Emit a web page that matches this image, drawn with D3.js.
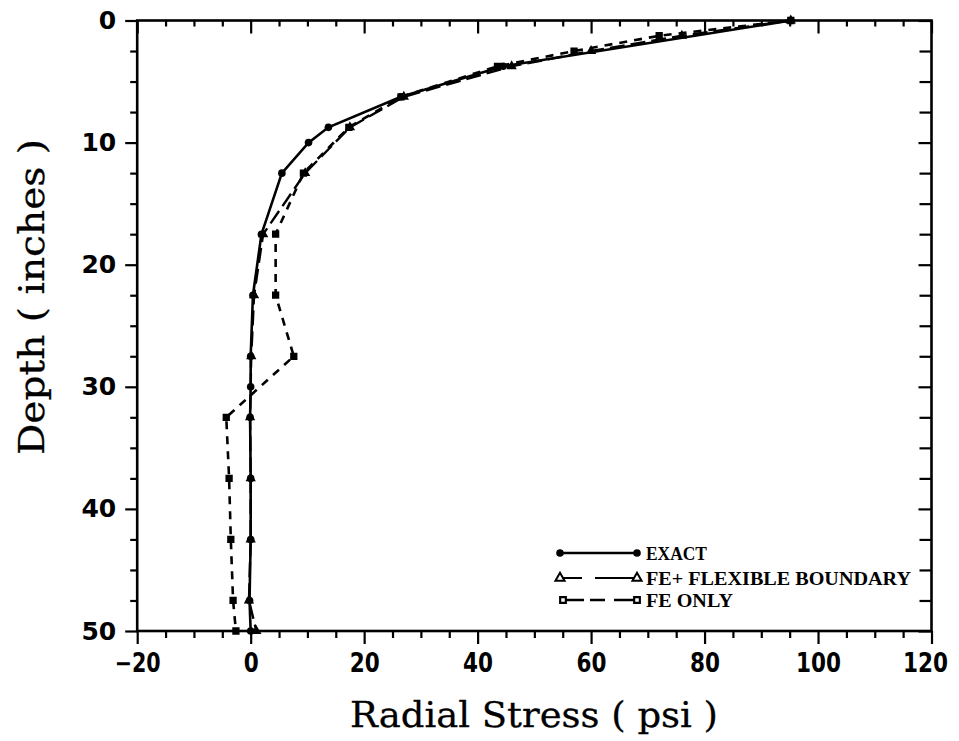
<!DOCTYPE html>
<html>
<head>
<meta charset="utf-8">
<script src="https://cdn.jsdelivr.net/npm/d3@7"></script>
<style>
  html, body { margin: 0; padding: 0; background: #fff; }
  svg { display: block; }
</style>
</head>
<body>
<svg id="chart" width="959" height="741"></svg>
<script>
// ---- data ----
const exactDepth  = [0, 3.75, 6.25, 8.75, 10, 12.5, 17.5, 22.5, 27.5, 30, 32.5, 37.5, 42.5, 47.5, 50];
const exactStress = [95.2, 44.5, 26.5, 13.7, 10.2, 5.5, 1.9, 0.4, 0.0, 0.0, -0.1, 0.0, 0.0, -0.2, 0.0];

const feDepth       = [0, 1.25, 2.5, 3.75, 6.25, 8.75, 12.5, 17.5, 22.5, 27.5, 32.5, 37.5, 42.5, 47.5, 50];
const flexStress    = [95.2, 76.0, 60.0, 46.0, 27.0, 17.5, 9.6, 2.2, 0.6, 0.1, -0.1, 0.0, 0.0, -0.3, 1.0];
const feOnlyStress  = [95.2, 72.0, 57.0, 43.5, 26.5, 17.3, 9.3, 4.4, 4.4, 7.6, -4.3, -3.8, -3.5, -3.1, -2.6];

const xMajorTicks = [-20, 0, 20, 40, 60, 80, 100, 120];
const yMajorTicks = [0, 10, 20, 30, 40, 50];
const legendLabels = ["EXACT", "FE+ FLEXIBLE BOUNDARY", "FE ONLY"];
const xTitle = "Radial Stress ( psi )";
const yTitle = "Depth ( inches )";

// ---- layout ----
const svg = d3.select("#chart");
const L = 137.2, R = 931.5, T = 20.5, B = 631;
const x = d3.scaleLinear().domain([-20, 120]).range([L, R]);
const y = d3.scaleLinear().domain([0, 50]).range([T, B]);

const xMinor = d3.range(-20, 120.01, 5).filter(v => !xMajorTicks.includes(v));
const yMinor = d3.range(0, 50.01, 2.5).filter(v => !yMajorTicks.includes(v));

function styleAxis(g) {
  g.select(".domain").remove();
  g.selectAll(".tick line").attr("stroke", "#000").attr("stroke-width", 2.2);
}

// bottom axis (ticks outward)
svg.append("g").attr("transform", `translate(0,${B})`)
  .call(d3.axisBottom(x).tickValues(xMajorTicks).tickSize(13).tickPadding(2).tickFormat(d => String(d).replace("-", "\u2212")))
  .call(styleAxis)
  .call(g => g.selectAll("text")
      .attr("font-family", "'DejaVu Sans', sans-serif")
      .attr("font-weight", "bold")
      .attr("font-size", 26)
      .attr("fill", "#000")
      .attr("dy", "1.0em")
      .each(function(d) {
        const s = String(Math.abs(d));
        const w = s.length * 15 + (d < 0 ? 16 : 0);
        const t = d3.select(this).attr("textLength", w).attr("lengthAdjust", "spacingAndGlyphs");
        if (d === 120) t.attr("text-anchor", "end").attr("x", 16);
      }));
svg.append("g").attr("transform", `translate(0,${B})`)
  .call(d3.axisBottom(x).tickValues(xMinor).tickSize(7).tickFormat(""))
  .call(styleAxis);

// top axis (ticks inward)
svg.append("g").attr("transform", `translate(0,${T})`)
  .call(d3.axisTop(x).tickValues(xMajorTicks).tickSize(-13).tickFormat(""))
  .call(styleAxis);
svg.append("g").attr("transform", `translate(0,${T})`)
  .call(d3.axisTop(x).tickValues(xMinor).tickSize(-6).tickFormat(""))
  .call(styleAxis);

// left axis (ticks outward)
svg.append("g").attr("transform", `translate(${L},0)`)
  .call(d3.axisLeft(y).tickValues(yMajorTicks).tickSize(12).tickPadding(9))
  .call(styleAxis)
  .call(g => g.selectAll("text")
      .attr("font-family", "'DejaVu Sans', sans-serif")
      .attr("font-weight", "bold")
      .attr("font-size", 25)
      .attr("fill", "#000"));
svg.append("g").attr("transform", `translate(${L},0)`)
  .call(d3.axisLeft(y).tickValues(yMinor).tickSize(7).tickFormat(""))
  .call(styleAxis);

// right axis (ticks inward)
svg.append("g").attr("transform", `translate(${R},0)`)
  .call(d3.axisRight(y).tickValues(yMajorTicks).tickSize(-13).tickFormat(""))
  .call(styleAxis);
svg.append("g").attr("transform", `translate(${R},0)`)
  .call(d3.axisRight(y).tickValues(yMinor).tickSize(-12).tickFormat(""))
  .call(styleAxis);

// frame
svg.append("rect")
  .attr("x", L).attr("y", T).attr("width", R - L).attr("height", B - T)
  .attr("fill", "none").attr("stroke", "#000").attr("stroke-width", 2.6);

// ---- series ----
const line = d3.line().x(d => x(d.v)).y(d => y(d.d));
const exactData  = exactDepth.map((d, i) => ({ d, v: exactStress[i] }));
const flexData   = feDepth.map((d, i) => ({ d, v: flexStress[i] }));
const feOnlyData = feDepth.map((d, i) => ({ d, v: feOnlyStress[i] }));

const plot = svg.append("g");
plot.append("path").datum(feOnlyData).attr("d", line)
  .attr("fill", "none").attr("stroke", "#000").attr("stroke-width", 2.6)
  .attr("stroke-dasharray", "8,7");
plot.append("path").datum(flexData).attr("d", line)
  .attr("fill", "none").attr("stroke", "#000").attr("stroke-width", 2.4)
  .attr("stroke-dasharray", "15,6");
plot.append("path").datum(exactData).attr("d", line)
  .attr("fill", "none").attr("stroke", "#000").attr("stroke-width", 2.6);

const tri = d3.symbol().type(d3.symbolTriangle).size(26);
const sq  = d3.symbol().type(d3.symbolSquare).size(28);

plot.selectAll(".fe").data(feOnlyData).join("path")
  .attr("transform", d => `translate(${x(d.v)},${y(d.d)})`)
  .attr("d", sq).attr("fill", "#000").attr("stroke", "#000").attr("stroke-width", 2);
plot.selectAll(".fl").data(flexData).join("path")
  .attr("transform", d => `translate(${x(d.v)},${y(d.d)})`)
  .attr("d", tri).attr("fill", "#000").attr("stroke", "#000").attr("stroke-width", 1.5);
plot.selectAll(".ex").data(exactData).join("circle")
  .attr("cx", d => x(d.v)).attr("cy", d => y(d.d)).attr("r", 3.8).attr("fill", "#000");

// ---- legend ----
const lg = svg.append("g");
const legY = [553, 578, 600];
const lx1 = 560, lx2 = 637;
const triL = d3.symbol().type(d3.symbolTriangle).size(36);
const sqL  = d3.symbol().type(d3.symbolSquare).size(32);
// EXACT
lg.append("line").attr("x1", lx1).attr("x2", lx2).attr("y1", legY[0]).attr("y2", legY[0])
  .attr("stroke", "#000").attr("stroke-width", 2.6);
lg.append("circle").attr("cx", lx1).attr("cy", legY[0]).attr("r", 3.8);
lg.append("circle").attr("cx", lx2).attr("cy", legY[0]).attr("r", 3.8);
// FE + flexible
lg.append("line").attr("x1", lx1).attr("x2", lx2).attr("y1", legY[1]).attr("y2", legY[1])
  .attr("stroke", "#000").attr("stroke-width", 2.2).attr("stroke-dasharray", "22,13,40");
lg.append("path").attr("transform", `translate(${lx1},${legY[1]})`).attr("d", triL)
  .attr("fill", "#fff").attr("stroke", "#000").attr("stroke-width", 2);
lg.append("path").attr("transform", `translate(${lx2},${legY[1]})`).attr("d", triL)
  .attr("fill", "#fff").attr("stroke", "#000").attr("stroke-width", 2);
// FE only
lg.append("line").attr("x1", lx1).attr("x2", lx2).attr("y1", legY[2]).attr("y2", legY[2])
  .attr("stroke", "#000").attr("stroke-width", 2.4).attr("stroke-dasharray", "24,6,15,9,30");
lg.append("path").attr("transform", `translate(${lx1 + 3},${legY[2]})`).attr("d", sqL)
  .attr("fill", "#fff").attr("stroke", "#000").attr("stroke-width", 2.2);
lg.append("path").attr("transform", `translate(${lx2},${legY[2]})`).attr("d", sqL)
  .attr("fill", "#fff").attr("stroke", "#000").attr("stroke-width", 2.2);

const legW = [61, 265, 87];
legendLabels.forEach((t, i) => {
  lg.append("text").attr("x", 646).attr("y", legY[i] + 7)
    .attr("font-family", "'Liberation Serif', serif").attr("font-weight", "bold")
    .attr("font-size", 19).attr("fill", "#000")
    .attr("textLength", legW[i]).attr("lengthAdjust", "spacingAndGlyphs")
    .text(t);
});

// ---- axis titles ----
svg.append("text")
  .attr("x", 534).attr("y", 727)
  .attr("text-anchor", "middle")
  .attr("font-family", "'DejaVu Serif', serif")
  .attr("font-size", 36).attr("fill", "#000")
  .attr("stroke", "#000").attr("stroke-width", 0.3)
  .attr("textLength", 368).attr("lengthAdjust", "spacingAndGlyphs")
  .text(xTitle);

svg.append("text")
  .attr("transform", "translate(44,297) rotate(-90)")
  .attr("text-anchor", "middle")
  .attr("font-family", "'DejaVu Serif', serif")
  .attr("font-size", 36).attr("fill", "#000")
  .attr("stroke", "#000").attr("stroke-width", 0.3)
  .attr("textLength", 316).attr("lengthAdjust", "spacingAndGlyphs")
  .text(yTitle);
</script>
</body>
</html>
